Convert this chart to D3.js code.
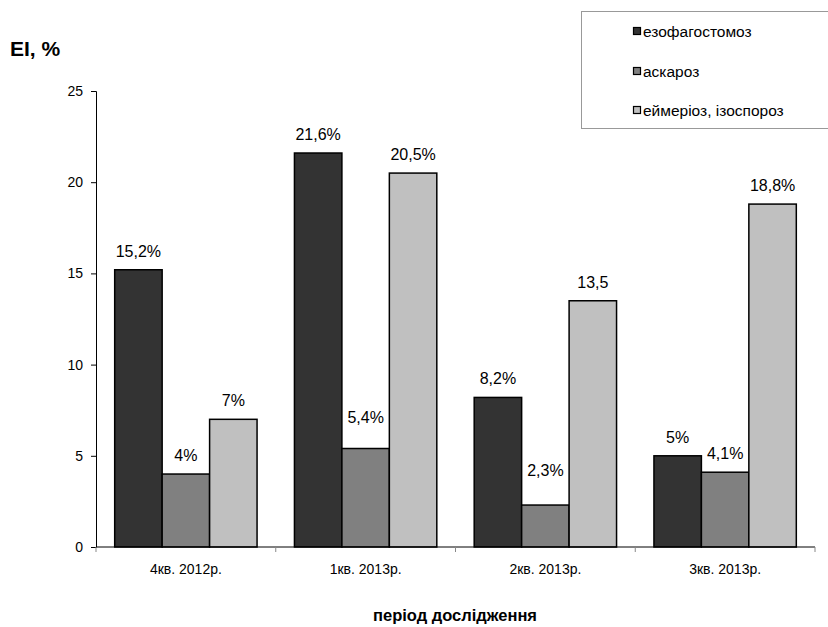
<!DOCTYPE html>
<html>
<head>
<meta charset="utf-8">
<script src="https://cdn.jsdelivr.net/npm/d3@7/dist/d3.min.js"></script>
<style>
  html, body { margin: 0; padding: 0; background: #fff; }
  svg { display: block; font-family: "Liberation Sans", Arial, sans-serif; }
</style>
</head>
<body>
<svg id="chart" width="828" height="627"></svg>
<script>
// Quarters of the study period
const periods = ["4кв. 2012р.", "1кв. 2013р.", "2кв. 2013р.", "3кв. 2013р."];
// Infections shown as series
const seriesNames = ["езофагостомоз", "аскароз", "еймеріоз, ізоспороз"];
// Extensity of invasion (EI, %) per series, per quarter
const esophagostomosis = [15.2, 21.6, 8.2, 5.0];
const ascariasis = [4.0, 5.4, 2.3, 4.1];
const eimeriosis = [7.0, 20.5, 13.5, 18.8];
// Value labels as printed above the bars
const labelsEsoph = ["15,2%", "21,6%", "8,2%", "5%"];
const labelsAscar = ["4%", "5,4%", "2,3%", "4,1%"];
const labelsEimer = ["7%", "20,5%", "13,5", "18,8%"];
const yTicks = [0, 5, 10, 15, 20, 25];

const seriesValues = [esophagostomosis, ascariasis, eimeriosis];
const seriesLabels = [labelsEsoph, labelsAscar, labelsEimer];
const colors = ["#333333", "#808080", "#c0c0c0"];

const svg = d3.select("#chart");
const m = { left: 96, right: 815, top: 91, bottom: 547 };

const x = d3.scaleBand().domain(periods).range([m.left, m.right])
  .paddingInner(0.208).paddingOuter(0.104);
const xs = d3.scaleBand().domain(seriesNames).range([0, x.bandwidth()]);
const y = d3.scaleLinear().domain([0, 25]).range([m.bottom, m.top]);

// Extra lift for labels that sit next to taller neighbours
const labelLift = { "1кв. 2013р.|аскароз": 13, "2кв. 2013р.|аскароз": 16 };

const rows = [];
periods.forEach((p, i) => {
  seriesNames.forEach((s, j) => {
    rows.push({ period: p, series: s, j, value: seriesValues[j][i], label: seriesLabels[j][i] });
  });
});

// Bars
svg.append("g").selectAll("rect").data(rows).join("rect")
  .attr("x", d => x(d.period) + xs(d.series))
  .attr("y", d => y(d.value))
  .attr("width", xs.bandwidth())
  .attr("height", d => y(0) - y(d.value))
  .attr("fill", d => colors[d.j])
  .attr("stroke", "#000")
  .attr("stroke-width", 1.5);

// Value labels
svg.append("g").selectAll("text").data(rows).join("text")
  .attr("x", d => x(d.period) + xs(d.series) + xs.bandwidth() / 2)
  .attr("y", d => y(d.value) - 13 - (labelLift[d.period + "|" + d.series] || 0))
  .attr("text-anchor", "middle")
  .attr("font-size", 16)
  .attr("fill", "#000")
  .text(d => d.label);

// Y axis
const yAxis = d3.axisLeft(y).tickValues(yTicks).tickSize(5).tickPadding(8);
const gy = svg.append("g").attr("transform", `translate(${m.left},0)`).call(yAxis);
gy.select(".domain").attr("stroke", "#000").attr("stroke-width", 1);
gy.selectAll(".tick line").attr("stroke", "#000");
gy.selectAll(".tick text").attr("font-size", 14).attr("fill", "#000")
  .attr("font-family", "'Liberation Sans', Arial, sans-serif");

// X axis: line plus ticks between categories
const gx = svg.append("g").attr("transform", `translate(0,${m.bottom})`);
gx.append("line").attr("x1", m.left).attr("x2", m.right).attr("stroke", "#000").attr("stroke-width", 1);
const step = (m.right - m.left) / periods.length;
gx.selectAll("line.tk").data(d3.range(periods.length + 1)).join("line")
  .attr("class", "tk")
  .attr("x1", i => m.left + i * step).attr("x2", i => m.left + i * step)
  .attr("y1", 0).attr("y2", 5).attr("stroke", "#888");
gx.selectAll("text").data(periods).join("text")
  .attr("x", d => x(d) + x.bandwidth() / 2)
  .attr("y", 27)
  .attr("text-anchor", "middle")
  .attr("font-size", 14)
  .attr("fill", "#000")
  .text(d => d);

// Axis titles
svg.append("text").attr("x", 10).attr("y", 56)
  .attr("font-size", 21).attr("font-weight", "bold").text("EI, %");
svg.append("text").attr("x", 455).attr("y", 621)
  .attr("text-anchor", "middle")
  .attr("font-size", 16.5).attr("font-weight", "bold").text("період дослідження");

// Legend
const lg = svg.append("g");
lg.append("rect").attr("x", 581.5).attr("y", 11.5).attr("width", 260).attr("height", 117)
  .attr("fill", "#fff").attr("stroke", "#999").attr("stroke-width", 1);
const rowY = [31, 71, 110];
seriesNames.forEach((s, j) => {
  lg.append("rect").attr("x", 633.5).attr("y", rowY[j] - 3.5).attr("width", 7).attr("height", 7)
    .attr("fill", colors[j]).attr("stroke", "#000").attr("stroke-width", 1.2);
  lg.append("text").attr("x", 643).attr("y", rowY[j] + 5.5)
    .attr("font-size", 15.5).attr("fill", "#000").text(s);
});
</script>
</body>
</html>
